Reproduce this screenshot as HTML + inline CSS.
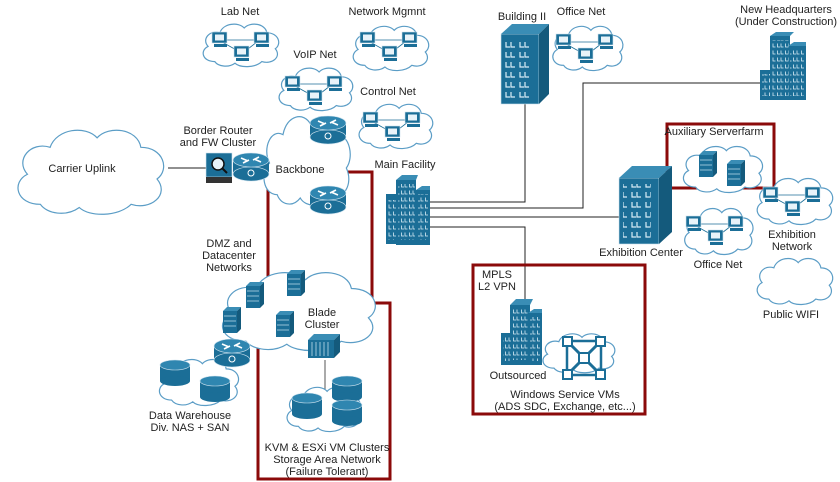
<!DOCTYPE html>
<html><head><meta charset="utf-8"><style>
html,body{margin:0;padding:0;background:#fff}
svg{display:block}
text{font-family:"Liberation Sans",sans-serif;font-size:11px;fill:#222;text-anchor:middle}
</style></head><body>
<svg width="840" height="482" viewBox="0 0 840 482" xmlns="http://www.w3.org/2000/svg">
<defs>
<symbol id="cloud" viewBox="0 0 100 60" preserveAspectRatio="none" overflow="visible">
<path d="M20,52 C5,52 2,38 12,33 C4,24 14,12 26,16 C30,4 48,2 55,10 C62,2 80,4 82,16 C96,16 100,30 92,36 C100,46 88,56 76,52 C68,60 50,60 44,54 C36,60 24,58 20,52 Z" fill="#fff" stroke="#5b9dc6" stroke-width="1.2" vector-effect="non-scaling-stroke"/>
</symbol>
<g id="pc">
<rect x="0" y="0" width="15" height="11" fill="#1b6e97" stroke="#cfe3ef" stroke-width="0.6"/>
<rect x="3" y="2.5" width="9" height="6" fill="#e8f3f9"/>
<rect x="2" y="12" width="13" height="3" fill="#1b6e97"/>
</g>
<g id="pcnet">
<line x1="15" y1="8" x2="45" y2="8" stroke="#1b6e97" stroke-width="0.8"/>
<line x1="10" y1="10" x2="28" y2="20" stroke="#1b6e97" stroke-width="0.8"/>
<line x1="45" y1="10" x2="32" y2="20" stroke="#1b6e97" stroke-width="0.8"/>
<use href="#pc" x="0" y="0"/><use href="#pc" x="42" y="0"/><use href="#pc" x="22" y="14"/>
</g>
<g id="router">
<rect x="-18" y="-6" width="36" height="14" fill="#1b6e97"/>
<ellipse cx="0" cy="8" rx="18" ry="7" fill="#1b6e97" stroke="#cfe3ef" stroke-width="0.6"/>
<ellipse cx="0" cy="-6" rx="18" ry="7" fill="#2f86b0" stroke="#cfe3ef" stroke-width="0.6"/>
<path d="M-10,-8 L-3,-5 M10,-4 L3,-7 M-8,-3 L-2,-6 M8,-9 L2,-6" stroke="#fff" stroke-width="1.6"/>
<circle cx="0" cy="7" r="3" fill="none" stroke="#fff" stroke-width="1"/>
</g>
<g id="server">
<path d="M0,4 L4,0 L18,0 L14,4 Z" fill="#3a8db5"/>
<path d="M14,4 L18,0 L18,22 L14,26 Z" fill="#145a7c"/>
<rect x="0" y="4" width="14" height="22" fill="#1b6e97"/>
<path d="M1,9 H13 M1,14 H13 M1,19 H13" stroke="#bcdcec" stroke-width="0.8"/>
</g>
<g id="db">
<rect x="0" y="5" width="30" height="16" fill="#1b6e97"/>
<ellipse cx="15" cy="21" rx="15" ry="5" fill="#1b6e97"/>
<ellipse cx="15" cy="5" rx="15" ry="5" fill="#2f86b0" stroke="#cfe3ef" stroke-width="0.6"/>
</g>
<pattern id="win" width="8" height="7" patternUnits="userSpaceOnUse">
<path d="M1.5,1.5 V5 H4 M5,1.5 V5 H7.5" stroke="#d8ecf6" stroke-width="0.8" fill="none"/>
</pattern>
<pattern id="winB" width="14" height="10" patternUnits="userSpaceOnUse">
<path d="M2,2 V7 H6 M7,2 V7 H11" stroke="#d8ecf6" stroke-width="1.2" fill="none"/>
</pattern>
</defs>

<!-- lines -->
<g stroke="#222" stroke-width="1" fill="none">
<line x1="168" y1="168" x2="206" y2="168"/>
<line x1="268" y1="162" x2="312" y2="130"/>
<line x1="268" y1="174" x2="312" y2="197"/>
<line x1="328" y1="136" x2="328" y2="192" stroke="#888"/>
<polyline points="430,202 525,202 525,104"/>
<polyline points="430,208 583,208 583,83 760,83"/>
<polyline points="430,217 620,217"/>
<polyline points="430,227 525,227 525,312"/>
<line x1="325" y1="360" x2="325" y2="392" stroke="#555"/>
</g>

<!-- red boxes -->
<g stroke="#8b0a0a" stroke-width="3" fill="none">
<polygon points="268,172 372,172 372,303 390,303 390,479 258,479 258,300 268,300"/>
<rect x="473" y="265" width="172" height="149"/>
<polyline points="667,188 667,124 774,124 774,188 672,188"/>
</g>

<!-- clouds -->
<use href="#cloud" x="8" y="122" width="162" height="95"/>
<use href="#cloud" x="198" y="20" width="84" height="48"/>
<use href="#cloud" x="348" y="22" width="84" height="50"/>
<use href="#cloud" x="274" y="64" width="82" height="48"/>
<use href="#cloud" x="354" y="100" width="82" height="50"/>
<use href="#cloud" x="258" y="108" width="96" height="100"/>
<use href="#cloud" x="548" y="22" width="78" height="50"/>
<use href="#cloud" x="678" y="142" width="88" height="52"/>
<use href="#cloud" x="752" y="174" width="84" height="52"/>
<use href="#cloud" x="680" y="204" width="76" height="52"/>
<use href="#cloud" x="752" y="254" width="84" height="52"/>
<use href="#cloud" x="538" y="330" width="80" height="44"/>
<use href="#cloud" x="212" y="265" width="170" height="88"/>
<use href="#cloud" x="154" y="355" width="88" height="52"/>
<use href="#cloud" x="282" y="383" width="82" height="50"/>

<!-- text -->
<text x="82" y="172">Carrier Uplink</text>
<text x="240" y="15">Lab Net</text>
<text x="387" y="15">Network Mgmnt</text>
<text x="315" y="58">VoIP Net</text>
<text x="388" y="95">Control Net</text>
<text x="218" y="134">Border Router</text>
<text x="218" y="146">and FW Cluster</text>
<text x="300" y="173">Backbone</text>
<text x="405" y="168">Main Facility</text>
<text x="522" y="20">Building II</text>
<text x="581" y="15">Office Net</text>
<text x="786" y="13">New Headquarters</text>
<text x="786" y="25">(Under Construction)</text>
<text x="714" y="135">Auxiliary Serverfarm</text>
<text x="641" y="256">Exhibition Center</text>
<text x="792" y="238">Exhibition</text>
<text x="792" y="250">Network</text>
<text x="718" y="268">Office Net</text>
<text x="791" y="318">Public WIFI</text>
<text x="497" y="278">MPLS</text>
<text x="497" y="290">L2 VPN</text>
<text x="518" y="379">Outsourced</text>
<text x="565" y="398">Windows Service VMs</text>
<text x="565" y="410">(ADS SDC, Exchange, etc...)</text>
<text x="229" y="247">DMZ and</text>
<text x="229" y="259">Datacenter</text>
<text x="229" y="271">Networks</text>
<text x="322" y="316">Blade</text>
<text x="322" y="328">Cluster</text>
<text x="190" y="419">Data Warehouse</text>
<text x="190" y="431">Div. NAS + SAN</text>
<text x="327" y="451">KVM &amp; ESXi VM Clusters</text>
<text x="327" y="463">Storage Area Network</text>
<text x="327" y="475">(Failure Tolerant)</text>

<!-- pc nets -->
<use href="#pcnet" x="212" y="32"/>
<use href="#pcnet" x="360" y="32"/>
<use href="#pcnet" x="285" y="76"/>
<use href="#pcnet" x="363" y="112"/>
<use href="#pcnet" x="556" y="34"/>
<use href="#pcnet" x="763" y="187"/>
<use href="#pcnet" x="686" y="216"/>

<!-- firewall -->
<rect x="206" y="153" width="26" height="24" fill="#1b6e97" stroke="#cfe3ef" stroke-width="0.6"/>
<circle cx="218" cy="164" r="6" fill="#e8f3f9" stroke="#111" stroke-width="1.5"/>
<line x1="222" y1="168" x2="227" y2="173" stroke="#111" stroke-width="2"/>
<rect x="206" y="177" width="26" height="6" fill="#333"/>
<!-- routers -->
<use href="#router" x="251" y="166"/>
<use href="#router" x="328" y="129"/>
<use href="#router" x="328" y="199"/>
<use href="#router" x="232" y="352"/>

<!-- buildings -->
<g>
<rect x="386" y="194" width="12" height="50" fill="#1b6e97"/>
<rect x="396" y="180" width="20" height="65" fill="#1b6e97"/>
<rect x="416" y="190" width="14" height="55" fill="#1b6e97"/>
<path d="M396,180 L402,175 L418,175 L416,180Z M416,190 L422,186 L430,186 L430,190Z" fill="#3a8db5"/>
<rect x="398" y="184" width="17" height="56" fill="url(#win)"/>
<rect x="418" y="194" width="10" height="46" fill="url(#win)"/>
<rect x="388" y="200" width="8" height="40" fill="url(#win)"/>
</g>
<g>
<rect x="501" y="34" width="38" height="70" fill="#1b6e97" stroke="#cfe3ef" stroke-width="0.6"/>
<path d="M501,34 L512,24 L549,24 L539,34Z" fill="#3a8db5"/>
<path d="M539,34 L549,24 L549,94 L539,104Z" fill="#145a7c"/>
<rect x="505" y="40" width="28" height="60" fill="url(#winB)"/>
</g>
<g>
<rect x="619" y="178" width="40" height="66" fill="#1b6e97" stroke="#cfe3ef" stroke-width="0.6"/>
<path d="M619,178 L632,166 L672,166 L659,178Z" fill="#3a8db5"/>
<path d="M659,178 L672,166 L672,232 L659,244Z" fill="#145a7c"/>
<rect x="623" y="184" width="28" height="56" fill="url(#winB)"/>
</g>
<g>
<rect x="760" y="70" width="12" height="30" fill="#1b6e97"/>
<rect x="770" y="36" width="20" height="64" fill="#1b6e97"/>
<rect x="788" y="46" width="18" height="54" fill="#1b6e97"/>
<path d="M770,36 L776,32 L794,32 L790,36Z M788,46 L794,42 L806,42 L806,46Z" fill="#3a8db5"/>
<rect x="772" y="40" width="17" height="56" fill="url(#win)"/>
<rect x="790" y="50" width="14" height="46" fill="url(#win)"/>
<rect x="762" y="74" width="8" height="22" fill="url(#win)"/>
</g>
<g>
<rect x="501" y="333" width="12" height="32" fill="#1b6e97"/>
<rect x="510" y="305" width="20" height="60" fill="#1b6e97"/>
<rect x="528" y="313" width="14" height="52" fill="#1b6e97"/>
<path d="M510,305 L516,299 L533,299 L530,305Z M528,313 L534,309 L542,309 L542,313Z" fill="#3a8db5"/>
<rect x="512" y="308" width="16" height="52" fill="url(#win)"/>
<rect x="530" y="317" width="10" height="44" fill="url(#win)"/>
<rect x="503" y="337" width="8" height="24" fill="url(#win)"/>
</g>

<!-- VM icon -->
<g stroke="#1b6e97" fill="none" stroke-width="2.5">
<rect x="567" y="341" width="34" height="34"/>
<path d="M570,344 L598,372 M598,344 L570,372" stroke-width="3"/>
</g>
<g fill="#fff" stroke="#1b6e97" stroke-width="2">
<rect x="563" y="337" width="9" height="9"/><rect x="596" y="337" width="9" height="9"/>
<rect x="563" y="370" width="9" height="9"/><rect x="596" y="370" width="9" height="9"/>
<rect x="579" y="353" width="10" height="10"/>
</g>

<!-- servers -->
<use href="#server" x="699" y="151"/>
<use href="#server" x="727" y="160"/>
<use href="#server" x="246" y="282"/>
<use href="#server" x="287" y="270"/>
<use href="#server" x="223" y="307"/>
<use href="#server" x="276" y="311"/>
<!-- blade switch -->
<g>
<path d="M308,340 L314,334 L340,334 L334,340Z" fill="#3a8db5"/>
<path d="M334,340 L340,334 L340,352 L334,358Z" fill="#145a7c"/>
<rect x="308" y="340" width="26" height="18" fill="#1b6e97"/>
<path d="M312,342 V356 M316,342 V356 M320,342 V356 M324,342 V356 M328,342 V356" stroke="#bcdcec" stroke-width="0.8"/>
</g>
<!-- databases -->
<use href="#db" x="160" y="360"/>
<use href="#db" x="200" y="376"/>
<use href="#db" x="292" y="393"/>
<use href="#db" x="332" y="376"/>
<use href="#db" x="332" y="400"/>
</svg>
</body></html>
